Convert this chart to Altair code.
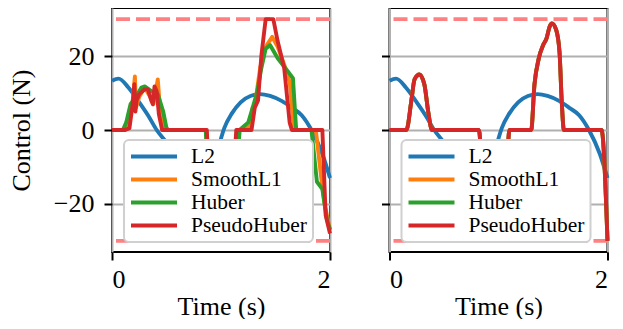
import altair as alt
import pandas as pd

SERIES = ["L2", "SmoothL1", "Huber", "PseudoHuber"]
COLORS = ["#1f77b4", "#ff7f0e", "#2ca02c", "#d62728"]

x_ticks = [0, 1, 2]
y_ticks = [-20, 0, 20]
limit_values = [30, -30]

# L2 (same trajectory in both panels)
l2_t = [0, 0.06, 0.15, 0.25, 0.33, 0.41, 0.52, 0.61, 0.70, 0.76, 0.80, 0.84, 0.90, 0.97,
        1.03, 1.10, 1.18, 1.27, 1.36, 1.45, 1.56, 1.65, 1.74, 1.83, 1.93, 2.0]
l2_v = [13.3, 13.9, 11.5, 7.5, 4.0, 0.0, -4.2, -9.0, -15.5, -20.5, -22.8, -21.5, -14.0, -5.5,
        0.5, 4.5, 7.5, 9.2, 9.7, 9.2, 7.8, 6.0, 4.0, 0.0, -6.5, -13.0]

# Left panel
left_smoothl1_t = [0, 0.12, 0.15, 0.19, 0.21, 0.22, 0.25, 0.30, 0.35, 0.38, 0.42, 0.44, 0.47, 0.49,
                   0.86, 0.91, 1.11, 1.17, 1.27, 1.29, 1.31, 1.36, 1.41, 1.47, 1.52, 1.58, 1.63,
                   1.67, 1.87, 1.92, 1.95, 2.0]
left_smoothl1_v = [0, 0, 3, 8, 14.5, 6, 9, 11.5, 9, 7, 13.7, 6, 2, 0,
                   0, -30, -30, 0, 1, 6, 6.5, 17, 22.5, 25.2, 22.5, 17.7, 13,
                   0, 0, -13, -20, -27]

left_huber_t = [0, 0.10, 0.13, 0.17, 0.22, 0.27, 0.30, 0.36, 0.42, 0.47, 0.50, 0.52,
                0.86, 0.91, 1.11, 1.17, 1.25, 1.29, 1.33, 1.37, 1.41, 1.45, 1.52, 1.61, 1.66,
                1.69, 1.83, 1.88, 1.93, 1.97, 2.0]
left_huber_v = [0, 0, 2, 7, 9, 11.5, 11.8, 10.5, 9.7, 5, 0.5, 0,
                0, -30, -30, 0, 2, 6, 10, 16.7, 22, 23, 19.4, 16, 14,
                0, 0, -14, -16, -24, -27]

left_pseudo_t = [0, 0.12, 0.16, 0.19, 0.205, 0.215, 0.225, 0.25, 0.30, 0.33, 0.36, 0.375, 0.39,
                 0.41, 0.43, 0.46, 0.87, 0.92, 1.08, 1.14, 1.28, 1.31, 1.34, 1.37, 1.41, 1.48,
                 1.52, 1.58, 1.63, 1.65, 1.93, 1.96, 2.0]
left_pseudo_v = [0, 0, 0.5, 7, 12.4, 5, 8, 9.7, 11, 11, 8, 7, 11.8,
                 10.5, 4.3, 0, 0, -30, -30, 0, 0, 6, 8, 20, 30, 30,
                 24, 16.7, 2, 0, 0, -23, -28]

# Right panel (SmoothL1, Huber and PseudoHuber overlap)
right_t = [0, 0.155, 0.20, 0.23, 0.275, 0.32, 0.355, 0.39, 0.82, 0.88, 1.05, 1.10, 1.30,
           1.33, 1.37, 1.41, 1.44, 1.47, 1.49, 1.53, 1.56, 1.58, 1.60, 1.945, 2.0]
right_v = [0, 0, 7.8, 13.7, 15, 12.3, 5, 0, 0, -30, -30, 0, 0,
           12.3, 19.4, 23, 24.7, 28, 28.8, 27, 21, 7.8, 0, 0, -30]


def frame(pairs):
    rows = []
    for name, ts, vs in pairs:
        for t, v in zip(ts, vs):
            rows.append({"t": t, "v": v, "series": name})
    return pd.DataFrame(rows)


left_df = frame([
    ("L2", l2_t, l2_v),
    ("SmoothL1", left_smoothl1_t, left_smoothl1_v),
    ("Huber", left_huber_t, left_huber_v),
    ("PseudoHuber", left_pseudo_t, left_pseudo_v),
])
right_df = frame([
    ("L2", l2_t, l2_v),
    ("SmoothL1", right_t, right_v),
    ("Huber", right_t, right_v),
    ("PseudoHuber", right_t, right_v),
])
limits_df = pd.DataFrame({"v": limit_values})

FONT = "Liberation Serif"
W, H = 218, 244


def panel(df, first):
    xenc = alt.X("t:Q", scale=alt.Scale(domain=[0, 2], nice=False, zero=False),
                 axis=alt.Axis(values=x_ticks, format="d", title="Time (s)",
                               labelFont=FONT, titleFont=FONT,
                               titleBaseline="alphabetic", titleY=62, titleX=W / 2))
    if first:
        yaxis = alt.Axis(values=y_ticks, format="d", title="Control (N)",
                         labelFont=FONT, titleFont=FONT,
                         titleAngle=270, titleBaseline="alphabetic", titleAlign="center",
                         titleX=-82.5, titleY=H / 2)
    else:
        yaxis = alt.Axis(values=y_ticks, format="d", title=None, labels=False)
    yenc = alt.Y("v:Q", scale=alt.Scale(domain=[-33, 33], nice=False, zero=False), axis=yaxis)
    color = alt.Color(
        "series:N", scale=alt.Scale(domain=SERIES, range=COLORS),
        legend=alt.Legend(title=None, orient="none", legendX=12, legendY=132),
    )

    rules = alt.Chart(limits_df).mark_rule(
        color="#ff8080", strokeDash=[14, 6], strokeWidth=3.9
    ).encode(y=yenc)

    l2_line = alt.Chart(df).transform_filter(alt.datum.series == "L2").mark_line(
        strokeWidth=3.9, interpolate="monotone", strokeJoin="round"
    ).encode(x=xenc, y=yenc, color=color, order="t:Q")

    others = alt.Chart(df).transform_filter(alt.datum.series != "L2").mark_line(
        strokeWidth=3.9, interpolate="linear" if first else "monotone", strokeJoin="round"
    ).encode(x=xenc, y=yenc, color=color, detail="series:N", order="t:Q")

    return (alt.layer(rules, l2_line, others).properties(width=W, height=H)
            .resolve_legend(color="shared"))


chart = (
    alt.hconcat(panel(left_df, True), panel(right_df, False), spacing=59.5, bounds="flush")
    .resolve_legend(color="independent")
    .configure(font=FONT, padding={"left": -1, "top": -1, "right": 0, "bottom": -1})
    .configure_view(stroke="black", strokeWidth=2)
    .configure_axis(
        domain=False, grid=True, gridColor="#b0b0b0", gridWidth=2,
        tickColor="black", tickWidth=2, tickSize=8,
        labelFont=FONT, labelFontSize=26, labelColor="black",
        titleFont=FONT, titleFontSize=26, titleFontWeight="normal", titleColor="black",
    )
    .configure_axisX(labelPadding=6.5)
    .configure_axisY(labelPadding=10)
    .configure_legend(
        symbolType="stroke", symbolSize=2116, symbolStrokeWidth=4,
        labelFont=FONT, labelFontSize=21.5, labelColor="black",
        fillColor="white", strokeColor="#d0d0d0", strokeWidth=2, cornerRadius=5,
        padding=6, clipHeight=21, rowPadding=1,
        symbolOffset=-1, labelOffset=12,
    )
)

chart.save("out.html", embed_options={"renderer": "svg", "actions": False})
